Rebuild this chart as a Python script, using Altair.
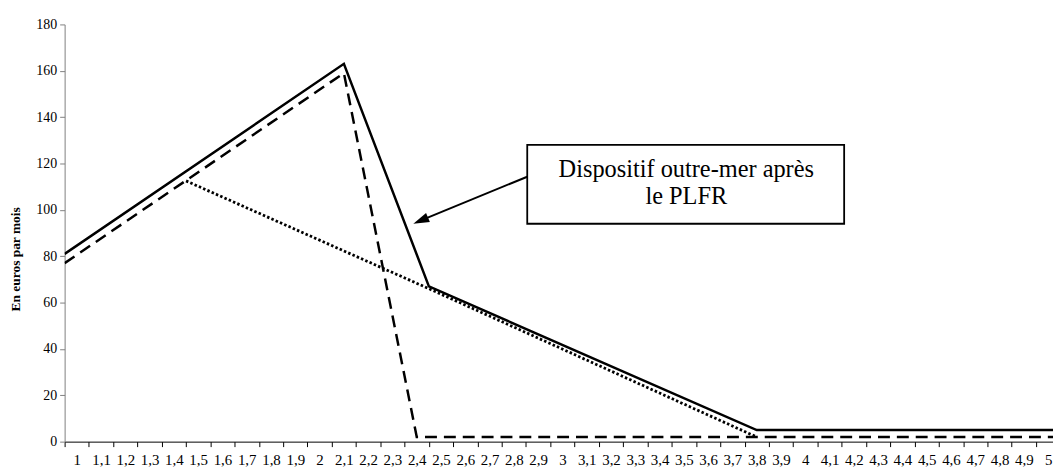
import json
import altair as alt
import pandas as pd

# ---- data ----
tick_labels = ["1", "1,1", "1,2", "1,3", "1,4", "1,5", "1,6", "1,7", "1,8", "1,9",
               "2", "2,1", "2,2", "2,3", "2,4", "2,5", "2,6", "2,7", "2,8", "2,9",
               "3", "3,1", "3,2", "3,3", "3,4", "3,5", "3,6", "3,7", "3,8", "3,9",
               "4", "4,1", "4,2", "4,3", "4,4", "4,5", "4,6", "4,7", "4,8", "4,9", "5"]

solid_x = [0.95, 2.1, 2.45, 3.8, 5.05]
solid_y = [81, 163, 67, 5, 5]

dashed_x = [0.95, 2.1, 2.4, 5.05]
dashed_y = [77, 159, 2, 2]

dotted_x = [1.45, 2.45, 3.8]
dotted_y = [112.5, 66, 2]

y_ticks = [0, 20, 40, 60, 80, 100, 120, 140, 160, 180]

annotation_lines = ["Dispositif outre-mer après", "le PLFR"]

# ---- annotation geometry (data units) ----
box = {"x": 2.855, "x2": 4.16, "y": 94.0, "y2": 128.0}
text_x = 3.51
text_y = [117.3, 105.6]
arrow = {"x": 2.855, "y": 114.3, "x2": 2.42, "y2": 95.6}
arrow_tip = {"x": 2.386, "y": 94.0}

# ---- scales ----
boundaries = [round(0.95 + 0.1 * k, 2) for k in range(len(tick_labels))]
label_expr = (json.dumps(tick_labels, ensure_ascii=False)
              + "[round((datum.value - 0.95) * 10)]")

FONT = "'Liberation Serif', 'Times New Roman', Tinos, 'DejaVu Serif', serif"
xscale = alt.Scale(domain=[0.95, 5.02], zero=False, nice=False)
yscale = alt.Scale(domain=[0, 180], zero=False, nice=False)

xaxis = alt.Axis(values=boundaries, labelExpr=label_expr, labelOffset=12.2,
                 labelFlush=False, labelOverlap=False, labelBound=False,
                 grid=False, title=None, tickSize=5, tickColor="#000000",
                 domainColor="#000000", labelFont=FONT, labelFontSize=15,
                 labelColor="#000000", labelPadding=6)
yaxis = alt.Axis(values=y_ticks, grid=False, tickSize=5, tickColor="#808080",
                 domainColor="#808080", labelFont=FONT, labelFontSize=14,
                 labelColor="#000000", labelPadding=3, labelOverlap=False,
                 title="En euros par mois", titleFont=FONT, titleFontSize=13.5,
                 titleFontWeight="bold", titleColor="#000000", titleAngle=270,
                 titleX=-49, titleY=236, titleAlign="center",
                 titleBaseline="middle")

X = alt.X("x:Q", scale=xscale, axis=xaxis)
Y = alt.Y("y:Q", scale=yscale, axis=yaxis)

solid_df = pd.DataFrame({"x": solid_x, "y": solid_y})
dashed_df = pd.DataFrame({"x": dashed_x, "y": dashed_y})
dotted_df = pd.DataFrame({"x": dotted_x, "y": dotted_y})

dotted = alt.Chart(dotted_df).mark_line(
    color="#000000", strokeWidth=2.8, strokeDash=[2.5, 2.2], clip=True
).encode(x=X, y=Y)

dashed = alt.Chart(dashed_df).mark_line(
    color="#000000", strokeWidth=2.5, strokeDash=[12, 7], clip=True
).encode(x=X, y=Y)

solid = alt.Chart(solid_df).mark_line(
    color="#000000", strokeWidth=2.5, clip=True
).encode(x=X, y=Y)

box_df = pd.DataFrame([box])
box_mark = alt.Chart(box_df).mark_rect(
    fill="#ffffff", stroke="#000000", strokeWidth=1.8
).encode(x=X, x2="x2:Q", y=Y, y2="y2:Q")

text_df = pd.DataFrame({"x": [text_x] * 2, "y": text_y, "t": annotation_lines})
text_mark = alt.Chart(text_df).mark_text(
    font=FONT, fontSize=24.5, color="#000000", align="center", baseline="middle"
).encode(x=X, y=Y, text="t:N")

arrow_df = pd.DataFrame([arrow])
arrow_line = alt.Chart(arrow_df).mark_rule(
    color="#000000", strokeWidth=2
).encode(x=X, y=Y, x2="x2:Q", y2="y2:Q")

tip_df = pd.DataFrame([arrow_tip])
arrow_head = alt.Chart(tip_df).mark_point(
    shape="M0,0 L0.62,2 L-0.62,2 Z", size=256, filled=True, opacity=1,
    color="#000000", angle=247
).encode(x=X, y=Y)

chart = alt.layer(dotted, dashed, solid, box_mark, text_mark, arrow_line,
                  arrow_head).properties(
    width=995, height=420,
    background="#ffffff",
    autosize=alt.AutoSizeParams(type="none"),
    padding={"left": 57, "top": 15, "right": 0, "bottom": 26},
).configure_view(stroke=None).configure_axis(labelOverlap=False)

chart.save("out.html", embed_options={"renderer": "svg", "actions": False})
